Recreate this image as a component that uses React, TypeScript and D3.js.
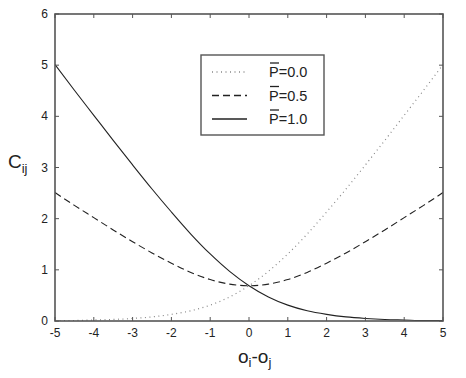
import React from "react";
import * as d3 from "d3";

const xValues = [-5, -4.5, -4, -3.5, -3, -2.5, -2, -1.5, -1, -0.5, 0, 0.5, 1, 1.5, 2, 2.5, 3, 3.5, 4, 4.5, 5];
const p00 = [0.01, 0.01, 0.02, 0.03, 0.05, 0.08, 0.13, 0.2, 0.31, 0.47, 0.69, 0.97, 1.31, 1.7, 2.13, 2.58, 3.05, 3.53, 4.02, 4.51, 5.01];
const p05 = [2.51, 2.26, 2.02, 1.78, 1.55, 1.33, 1.13, 0.95, 0.81, 0.72, 0.69, 0.72, 0.81, 0.95, 1.13, 1.33, 1.55, 1.78, 2.02, 2.26, 2.51];
const p10 = [5.01, 4.51, 4.02, 3.53, 3.05, 2.58, 2.13, 1.7, 1.31, 0.97, 0.69, 0.47, 0.31, 0.2, 0.13, 0.08, 0.05, 0.03, 0.02, 0.01, 0.01];
const xTicks = [-5, -4, -3, -2, -1, 0, 1, 2, 3, 4, 5];
const yTicks = [0, 1, 2, 3, 4, 5, 6];
const legendLabels = ["0.0", "0.5", "1.0"];

const W = 466, H = 378;
const L = 55, R = 443, T = 14, B = 321;

export default function App() {
  const x = d3.scaleLinear().domain([-5, 5]).range([L, R]);
  const y = d3.scaleLinear().domain([0, 6]).range([B, T]);
  const line = d3.line<number>().x((_, i) => x(xValues[i])).y((d) => y(d)).curve(d3.curveMonotoneX);
  const series = [
    { data: p00, dash: "1,3.5", color: "#888", width: 1.2 },
    { data: p05, dash: "7,4", color: "#222", width: 1.1 },
    { data: p10, dash: "none", color: "#222", width: 1.1 },
  ];
  const font = "Arial, 'Liberation Sans', sans-serif";
  const axisColor = "#555";
  return (
    <svg width={W} height={H} style={{ position: "absolute", left: 0, top: 0 }} fontFamily={font}>
      <rect x={0} y={0} width={W} height={H} fill="#fff" />
      <defs>
        <clipPath id="clip">
          <rect x={L} y={T} width={R - L} height={B - T} />
        </clipPath>
      </defs>
      {series.map((s, i) => (
        <path key={i} d={line(s.data) || ""} fill="none" stroke={s.color} strokeWidth={s.width}
          strokeDasharray={s.dash} clipPath="url(#clip)" />
      ))}
      <rect x={L} y={T} width={R - L} height={B - T} fill="none" stroke={axisColor} strokeWidth={1.6} />
      {xTicks.map((t) => (
        <g key={"x" + t}>
          <line x1={x(t)} x2={x(t)} y1={B} y2={B - 4} stroke={axisColor} />
          <line x1={x(t)} x2={x(t)} y1={T} y2={T + 4} stroke={axisColor} />
          <text x={x(t)} y={B + 16} textAnchor="middle" fontSize={12} fill="#222">{t}</text>
        </g>
      ))}
      {yTicks.map((t) => (
        <g key={"y" + t}>
          <line x1={L} x2={L + 4} y1={y(t)} y2={y(t)} stroke={axisColor} />
          <line x1={R} x2={R - 4} y1={y(t)} y2={y(t)} stroke={axisColor} />
          <text x={48} y={y(t) + 4} textAnchor="end" fontSize={12} fill="#222">{t}</text>
        </g>
      ))}
      <text x={8} y={168} fontSize={19} fill="#222">
        C<tspan fontSize={13} dy={5}>ij</tspan>
      </text>
      <text x={238} y={363} fontSize={19} fill="#222">
        o<tspan fontSize={13} dy={4}>i</tspan><tspan dy={-4}>-o</tspan><tspan fontSize={13} dy={4}>j</tspan>
      </text>
      <rect x={201} y={55} width={123} height={80} fill="#fff" stroke={axisColor} strokeWidth={1.4} />
      {series.map((s, i) => {
        const ly = 72 + i * 23.5;
        return (
          <g key={"l" + i}>
            <line x1={212} x2={247} y1={ly} y2={ly} stroke={s.color} strokeWidth={s.width + 0.2} strokeDasharray={s.dash} />
            <line x1={270} x2={279} y1={ly - 9} y2={ly - 9} stroke="#222" strokeWidth={1.3} />
            <text x={269} y={ly + 5} fontSize={14.5} fill="#222">P={legendLabels[i]}</text>
          </g>
        );
      })}
    </svg>
  );
}
